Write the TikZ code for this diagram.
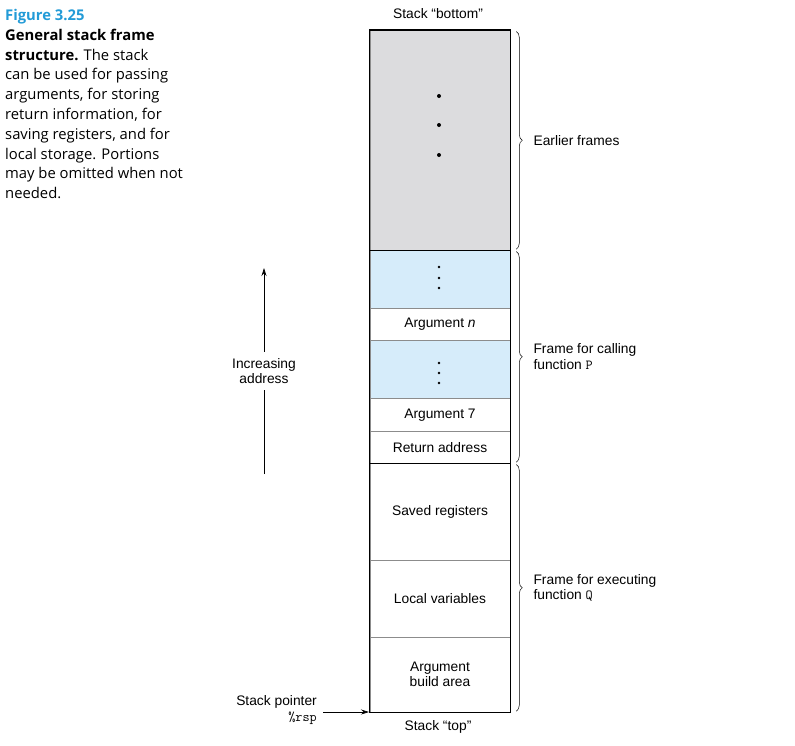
\documentclass[tikz,border=0pt]{standalone}
\usepackage{fontspec}
\setmainfont{Liberation Sans}
\newfontfamily\capfont{Open Sans}
\usetikzlibrary{arrows.meta,decorations.pathreplacing}
\definecolor{figblue}{RGB}{35,155,215}
\definecolor{oldgray}{RGB}{220,220,222}
\definecolor{argblue}{RGB}{214,236,250}
\begin{document}
\begin{tikzpicture}[x=1pt, y=-1pt,
    cell/.style={draw=black!45, line width=0.6pt, minimum width=140pt,
      inner sep=0pt, anchor=north, align=center,
      font=\fontsize{13.8}{15}\selectfont},
    lbl/.style={font=\fontsize{13.8}{15.5}\selectfont, align=left, inner sep=0pt},
    brc/.style={decorate, decoration={brace, amplitude=6pt}, line width=0.5pt}]
  \useasboundingbox (0,0) rectangle (795,745);

  % caption
  \node[anchor=north west, inner sep=0pt, align=left,
    font=\capfont\fontsize{14.8}{19.8}\selectfont] (cap) at (5,9)
    {\textcolor{figblue}{\textbf{Figure 3.25}}\\
     \textbf{General stack frame}\\
     \textbf{structure.} The stack\\
     can be used for passing\\
     arguments, for storing\\
     return information, for\\
     saving registers, and for\\
     local storage. Portions\\
     may be omitted when not\\
     needed.};

  % stack cells
  \foreach \n/\t/\h/\c/\txt in {
      old/30/220/oldgray/{},
      blA/250/58/argblue/{},
      argn/308/32/white/{Argument \textit{n}},
      blB/340/58/argblue/{},
      argvii/398/33/white/{Argument 7},
      ret/431/32/white/{Return address},
      saved/463/97/white/{Saved registers},
      locals/560/77/white/{Local variables},
      build/637/75/white/{Argument\\build area}}
  {
    \node[cell, fill=\c, minimum height=\h pt] (\n) at (440,\t) {\txt};
  }

  \draw[line width=1.2pt]
    (old.north west) rectangle (build.south east)
    (old.south west) -- (old.south east)
    (ret.south west) -- (ret.south east);

  \foreach \y in {96, 125, 155}
    \fill (439,\y) circle (2pt);
  \foreach \y in {267, 278, 288, 363, 373, 383}
    \fill (439,\y) circle (1.3pt);

  \node[lbl] (bot) at (438,14) {Stack ``bottom''};
  \node[lbl] (top) at (438,727) {Stack ``top''};

  % braces
  \draw[brc] ([xshift=6pt, yshift=-1.5pt]old.north east)
    -- ([xshift=6pt, yshift=1.5pt]old.south east)
    node[lbl, midway, anchor=west, xshift=17pt] (earl) {Earlier frames};
  \draw[brc] ([xshift=6pt, yshift=-1.5pt]blA.north east)
    -- ([xshift=6pt, yshift=1.5pt]ret.south east)
    node[lbl, midway, anchor=west, xshift=17pt] (framep)
    {Frame for calling\\function \texttt{P}};
  \draw[brc] ([xshift=6pt, yshift=-1.5pt]saved.north east)
    -- ([xshift=6pt, yshift=1.5pt]build.south east)
    node[lbl, midway, anchor=west, xshift=17pt] (frameq)
    {Frame for executing\\function \texttt{Q}};

  % increasing address
  \node[lbl, align=center, inner sep=6pt] (inc) at (264,371)
    {Increasing\\address};
  \coordinate (incbot) at (264,474);
  \coordinate (inctop) at (264,268);
  \draw[line width=0.7pt] (incbot) -- (inc);
  \draw[line width=0.7pt, -{Stealth[length=8pt, width=5pt]}] (inc) -- (inctop);

  % stack pointer
  \node[lbl, align=right, anchor=east] (sp) at (317,710)
    {Stack pointer\\\texttt{\%rsp}};
  \coordinate (spend) at (369,712);
  \draw[line width=0.7pt, -{Stealth[length=8pt, width=5pt]}]
    ([xshift=6pt]sp.east |- spend) -- (spend);
\end{tikzpicture}
\end{document}
